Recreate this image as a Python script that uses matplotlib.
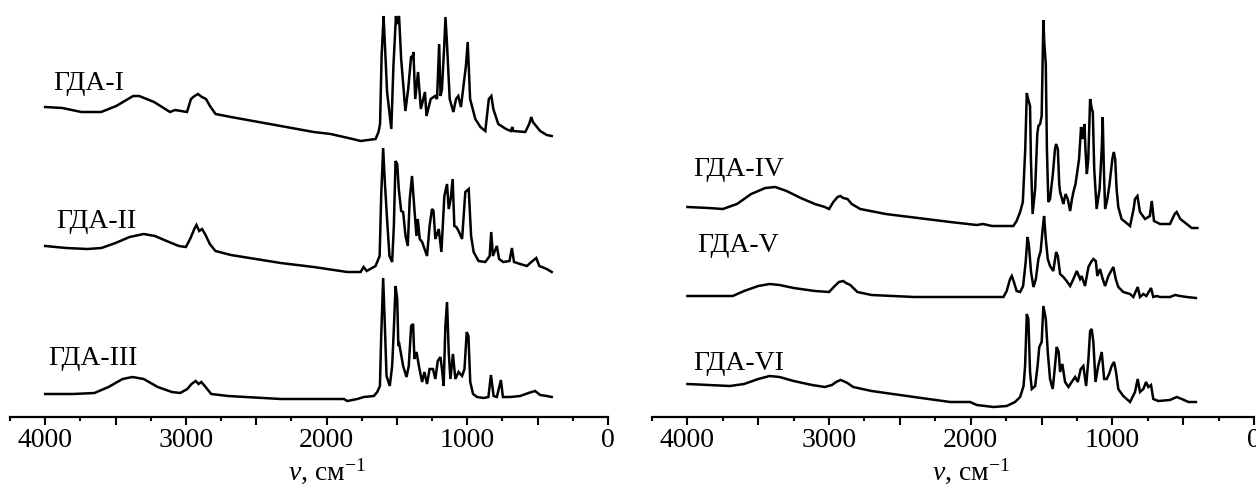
import numpy as np
import matplotlib.pyplot as plt
from matplotlib.ticker import MultipleLocator, FuncFormatter, NullFormatter

plt.rcParams['font.family'] = ['Liberation Serif', 'DejaVu Serif']
plt.rcParams['mathtext.fontset'] = 'custom'
plt.rcParams['mathtext.rm'] = 'Liberation Serif'
plt.rcParams['mathtext.it'] = 'Liberation Serif:italic'

# ИК-спектры, волновое число (см-1) и интенсивность (усл. ед., со сдвигом)
wn_1 = [4000, 3878, 3743, 3602, 3495, 3375, 3332, 3226, 3113, 3077, 3035, 2992, 2964, 2939, 2914, 2886,
        2857, 2829, 2789, 2680, 2326, 2092, 1971, 1815, 1758, 1652, 1631, 1620, 1609, 1595, 1588, 1570,
        1540, 1525, 1507, 1500, 1485, 1470, 1440, 1420, 1399, 1390, 1383, 1370, 1350, 1330, 1301, 1290,
        1260, 1230, 1215, 1200, 1190, 1180, 1165, 1155, 1145, 1125, 1099, 1080, 1064, 1045, 1010, 997,
        980, 943, 907, 872, 847, 829, 815, 780, 725, 690, 680, 673, 588, 560, 545, 534, 482, 435, 400]
ir_1 = [310, 309, 305, 305, 311, 321, 321, 315, 305, 307, 306, 305, 318, 321, 323, 320,
        318, 311, 303, 300, 291, 285, 283, 278, 276, 278, 285, 293, 361, 401, 380, 325,
        288, 351, 401, 393, 401, 358, 306, 328, 361, 358, 365, 318, 345, 308, 325, 301,
        318, 321, 318, 373, 321, 328, 368, 400, 375, 318, 305, 318, 321, 310, 351, 375,
        318, 298, 290, 286, 318, 321, 308, 293, 288, 286, 290, 286, 285, 293, 300, 295, 286, 282, 281]

wn_2 = [4000, 3850, 3700, 3600, 3500, 3400, 3300, 3220, 3120, 3050, 3000, 2970, 2940, 2925, 2905, 2885,
        2860, 2830, 2790, 2680, 2326, 2092, 1853, 1780, 1758, 1737, 1715, 1652, 1623, 1612, 1598, 1588,
        1569, 1553, 1534, 1522, 1510, 1498, 1487, 1470, 1456, 1439, 1423, 1409, 1393, 1376, 1361, 1352,
        1338, 1321, 1286, 1268, 1251, 1240, 1227, 1203, 1184, 1163, 1144, 1132, 1118, 1104, 1092, 1078,
        1062, 1037, 1014, 990, 973, 955, 920, 872, 841, 830, 818, 790, 774, 745, 700, 683, 668, 624,
        576, 545, 510, 488, 435, 400]
ir_2 = [171, 169, 168, 169, 174, 180, 183, 181, 175, 171, 170, 178, 188, 192, 186, 188,
        182, 173, 166, 162, 154, 150, 145, 145, 145, 150, 146, 151, 161, 221, 269, 240,
        195, 161, 155, 191, 256, 253, 228, 206, 205, 181, 171, 218, 241, 208, 181, 198,
        178, 175, 161, 191, 208, 206, 178, 188, 165, 221, 233, 208, 218, 238, 191, 190,
        186, 178, 225, 228, 181, 165, 156, 155, 161, 185, 161, 171, 158, 155, 156, 169, 155, 153,
        151, 155, 159, 151, 148, 145]

wn_3 = [4000, 3800, 3650, 3550, 3450, 3380, 3300, 3200, 3100, 3040, 2990, 2960, 2930, 2910, 2890, 2860,
        2820, 2700, 2326, 1877, 1853, 1782, 1735, 1664, 1640, 1621, 1612, 1598, 1588, 1574, 1551, 1534,
        1522, 1510, 1498, 1490, 1486, 1456, 1432, 1416, 1399, 1385, 1376, 1361, 1340, 1321, 1305, 1286,
        1268, 1244, 1227, 1210, 1191, 1180, 1168, 1156, 1144, 1132, 1120, 1102, 1085, 1062, 1037, 1020,
        1004, 992, 979, 959, 931, 884, 850, 832, 813, 790, 761, 747, 695, 624, 565, 518, 482, 435, 400]
ir_3 = [23, 23, 24, 30, 38, 40, 38, 30, 25, 24, 28, 33, 36, 33, 35, 30,
        23, 21, 18, 18, 16, 18, 20, 21, 25, 31, 80, 139, 100, 41, 31, 51,
        88, 131, 118, 71, 75, 51, 40, 51, 91, 93, 58, 65, 48, 35, 45, 33,
        48, 48, 38, 56, 60, 48, 31, 90, 115, 65, 38, 63, 38, 45, 41, 48,
        85, 81, 35, 23, 20, 19, 20, 42, 21, 20, 37, 20, 20, 21, 24, 26, 22, 21, 20]

wn_4 = [4000, 3850, 3750, 3650, 3550, 3450, 3380, 3300, 3200, 3100, 3030, 3000, 2970, 2940, 2920, 2900,
        2870, 2840, 2780, 2600, 2145, 1957, 1912, 1850, 1699, 1676, 1651, 1632, 1615, 1604, 1595, 1581,
        1575, 1563, 1545, 1530, 1522, 1510, 1499, 1492, 1487, 1480, 1470, 1462, 1452, 1440, 1420, 1405,
        1397, 1385, 1375, 1369, 1355, 1346, 1330, 1315, 1298, 1285, 1275, 1260, 1235, 1221, 1210, 1197,
        1190, 1180, 1170, 1157, 1145, 1138, 1128, 1111, 1090, 1075, 1068, 1060, 1051, 1035, 1020, 1000,
        990, 980, 970, 958, 935, 875, 850, 840, 823, 805, 769, 735, 722, 706, 663, 593, 560, 546,
        520, 475, 440, 400]
ir_4 = [210, 209, 208, 213, 223, 229, 230, 226, 219, 213, 210, 208, 215, 220, 221, 219,
        218, 213, 208, 203, 195, 192, 193, 191, 191, 196, 205, 215, 268, 324, 318, 311,
        258, 203, 228, 283, 291, 293, 301, 358, 397, 373, 353, 268, 215, 218, 243, 268,
        273, 268, 233, 225, 218, 213, 223, 218, 206, 218, 225, 233, 258, 290, 278, 293,
        268, 243, 258, 318, 308, 305, 248, 208, 228, 268, 300, 248, 208, 218, 233, 258,
        265, 258, 228, 210, 198, 191, 208, 218, 221, 205, 198, 201, 216, 196, 193, 193, 203, 205,
        198, 193, 189, 189]

wn_5 = [4000, 3800, 3680, 3600, 3500, 3420, 3350, 3250, 3100, 3000, 2960, 2930, 2900, 2880, 2850, 2800,
        2700, 2400, 2145, 1769, 1746, 1722, 1710, 1695, 1676, 1651, 1630, 1612, 1599, 1590, 1574, 1557,
        1540, 1522, 1506, 1492, 1482, 1470, 1456, 1440, 1417, 1397, 1385, 1369, 1346, 1323, 1298, 1275,
        1251, 1228, 1217, 1193, 1169, 1150, 1134, 1117, 1106, 1087, 1068, 1051, 1028, 1009, 993, 976,
        958, 923, 875, 852, 821, 805, 781, 760, 727, 711, 687, 663, 593, 557, 522, 475, 410]
ir_5 = [121, 121, 121, 126, 131, 133, 132, 129, 126, 125, 131, 135, 136, 134, 132, 125,
        122, 120, 120, 120, 126, 138, 141, 135, 126, 125, 131, 155, 180, 173, 145, 130,
        138, 158, 166, 188, 201, 178, 158, 151, 146, 165, 161, 143, 140, 136, 131, 138,
        146, 138, 141, 131, 150, 155, 158, 156, 141, 148, 138, 131, 141, 146, 150, 138,
        130, 125, 123, 120, 130, 120, 123, 121, 129, 120, 121, 120, 120, 122, 121, 120, 119]

wn_6 = [4000, 3850, 3700, 3600, 3500, 3420, 3350, 3250, 3120, 3030, 2980, 2950, 2920, 2900, 2870, 2830,
        2700, 2400, 2145, 2004, 1957, 1839, 1746, 1687, 1651, 1627, 1616, 1604, 1593, 1581, 1569, 1545,
        1528, 1516, 1499, 1487, 1470, 1456, 1440, 1421, 1405, 1393, 1379, 1369, 1353, 1334, 1310, 1287,
        1263, 1244, 1223, 1205, 1185, 1169, 1157, 1146, 1134, 1119, 1100, 1075, 1058, 1040, 1023, 1005,
        988, 974, 958, 923, 875, 840, 821, 805, 781, 762, 746, 727, 711, 675, 593, 546, 510, 463, 410]
ir_6 = [33, 32, 31, 33, 38, 41, 40, 36, 32, 30, 32, 35, 37, 36, 34, 30,
        26, 20, 15, 15, 12, 10, 11, 15, 20, 31, 51, 103, 98, 45, 28, 31,
        51, 70, 75, 111, 98, 65, 38, 28, 51, 70, 65, 45, 53, 35, 30, 35,
        40, 35, 48, 51, 31, 58, 86, 88, 75, 35, 51, 65, 38, 38, 43, 51,
        55, 45, 28, 21, 15, 25, 38, 25, 28, 35, 30, 32, 18, 16, 17, 20, 18, 15, 15]

left_series = [(wn_1, ir_1, 'ГДА-I', 3940, 328),
               (wn_2, ir_2, 'ГДА-II', 3920, 190),
               (wn_3, ir_3, 'ГДА-III', 3975, 53)]
right_series = [(wn_4, ir_4, 'ГДА-IV', 3960, 242),
                (wn_5, ir_5, 'ГДА-V', 3930, 166),
                (wn_6, ir_6, 'ГДА-VI', 3960, 48)]

W, H = 1256, 485
fig = plt.figure(figsize=(W / 100, H / 100), dpi=100)
ax1 = fig.add_axes([10 / W, 67 / H, 598 / W, 418 / H])
ax2 = fig.add_axes([652 / W, 67 / H, 602 / W, 418 / H])

# подписи только у тысяч
def fmt(v, pos):
    return str(int(round(v))) if int(round(v)) % 1000 == 0 else ''

for ax, series in [(ax1, left_series), (ax2, right_series)]:
    for wn, ir, name, tx, ty in series:
        ax.plot(wn, ir, color='black', lw=1.8, solid_joinstyle='miter')
        ax.text(tx, ty, name, fontsize=20, ha='left', va='baseline')
    ax.set_xlim(4250, 0)
    ax.set_ylim(0, 418)
    for s in ['top', 'left', 'right']:
        ax.spines[s].set_visible(False)
    ax.spines['bottom'].set_linewidth(1.6)
    ax.set_yticks([])
    ax.xaxis.set_major_locator(MultipleLocator(500))
    ax.xaxis.set_major_formatter(FuncFormatter(fmt))
    ax.xaxis.set_minor_locator(MultipleLocator(250))
    ax.xaxis.set_minor_formatter(NullFormatter())
    ax.tick_params(axis='x', which='major', direction='out', length=6, width=1.5,
                   labelsize=20, pad=1.5)
    ax.tick_params(axis='x', which='minor', direction='out', length=3, width=1.5)
    ax.text(2000, -0.146, r'$\mathit{\nu}$, см$^{\mathregular{-1}}$', fontsize=20,
            ha='center', va='baseline', transform=ax.get_xaxis_transform())
    ax.patch.set_visible(False)

fig.savefig('out.png', dpi=100)
